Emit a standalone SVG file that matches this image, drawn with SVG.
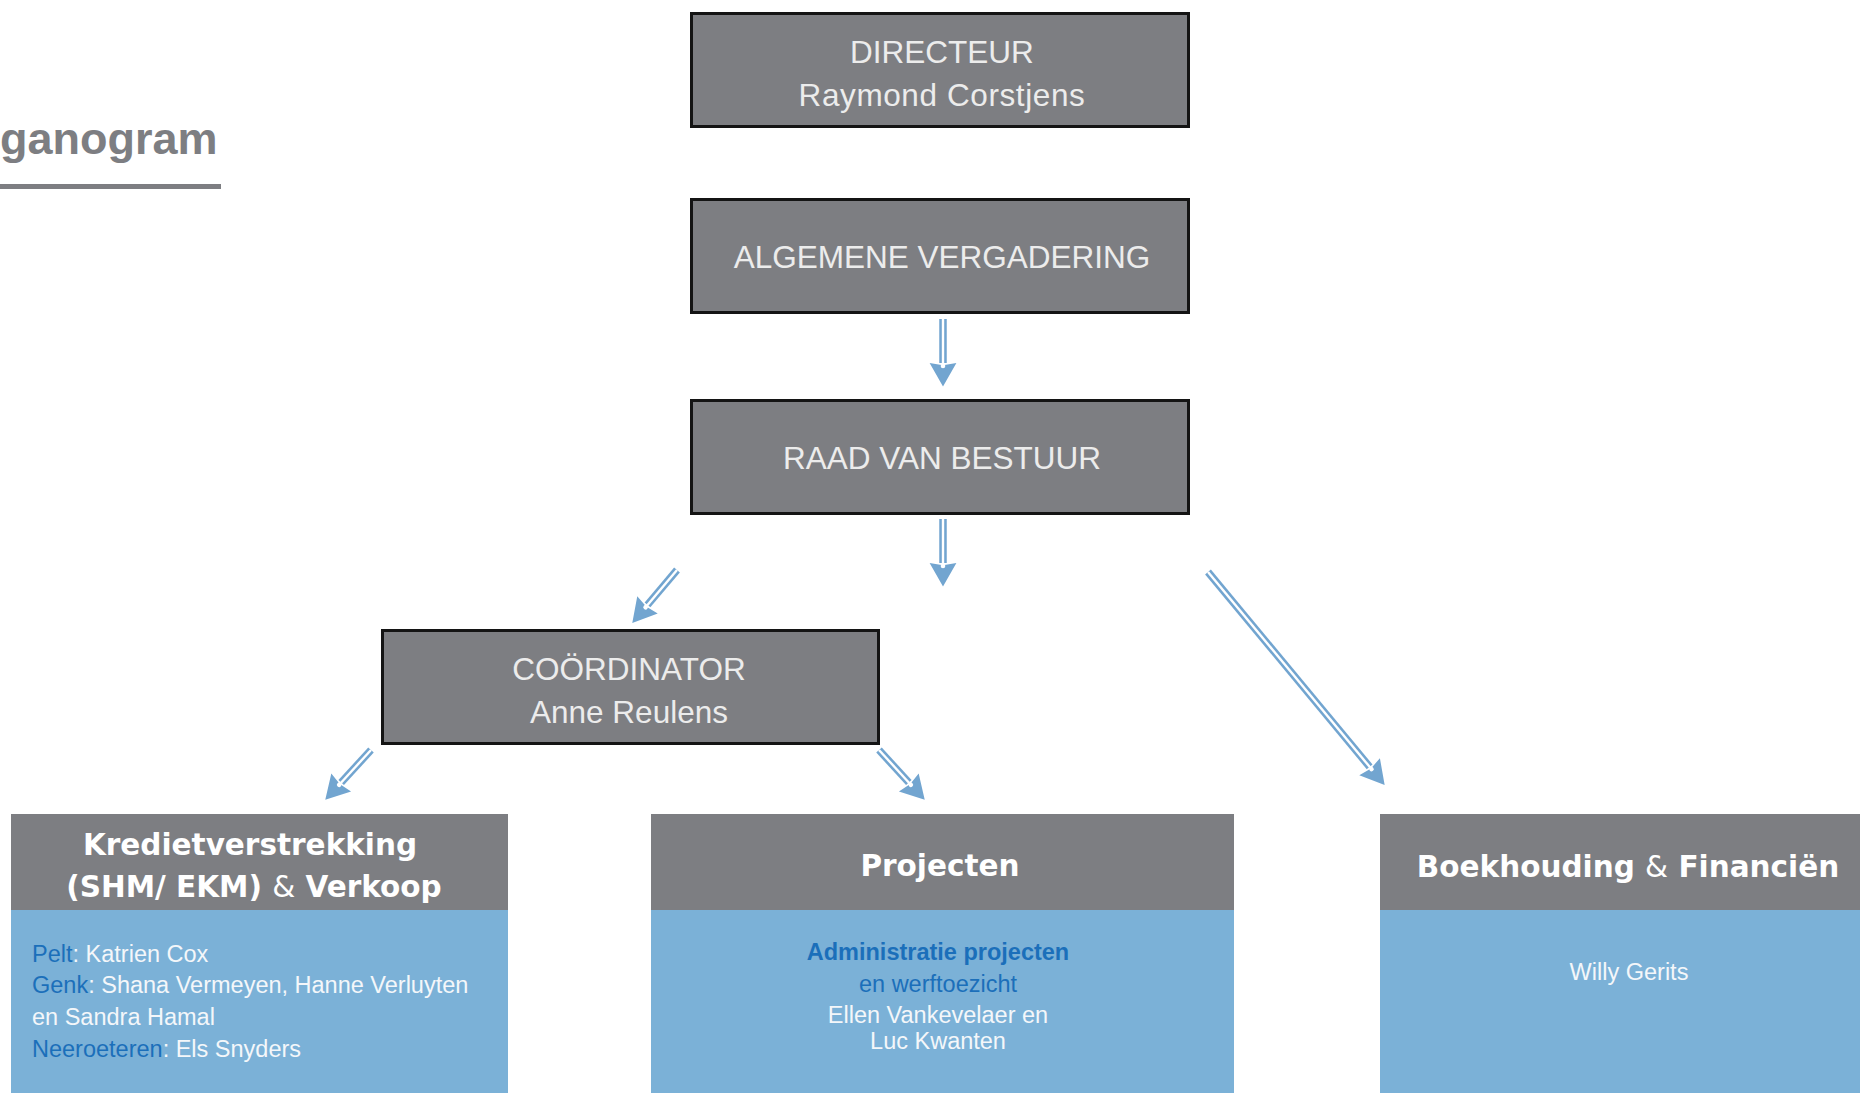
<svg xmlns="http://www.w3.org/2000/svg" width="1860" height="1093" viewBox="0 0 1860 1093">
<style>
.box{fill:#7d7e82;stroke:#141414;stroke-width:3}
.hdr{fill:#7d7e82}
.body{fill:#7bb1d7}
.bt{font-family:"Liberation Sans",Arial,sans-serif;font-size:31.5px;fill:#ececec;text-anchor:middle}
.ht{font-family:"DejaVu Sans",sans-serif;font-weight:bold;font-size:29.5px;fill:#ffffff;text-anchor:middle}
.amp{font-weight:normal}
.tx{font-family:"Liberation Sans",Arial,sans-serif;font-size:23.5px;fill:#f4f7fa}
.blue{fill:#1b6fba}
.shaft{fill:none;stroke:#72a5d0;stroke-width:7.5;marker-end:url(#head)}
.gap{fill:none;stroke:#ffffff;stroke-width:2.4;marker-end:url(#dot)}
</style>
<defs>
<marker id="head" markerUnits="userSpaceOnUse" orient="auto" refX="0" refY="0" markerWidth="30" markerHeight="30" viewBox="-2 -14 26 28" overflow="visible">
<path d="M0,-12.5 L22,0 L0,12.5 L2,0 Z" fill="#72a5d0"/>
</marker>
<marker id="dot" markerUnits="userSpaceOnUse" orient="auto" refX="0" refY="0" markerWidth="8" markerHeight="8" viewBox="-4 -4 8 8" overflow="visible">
<circle cx="0" cy="0" r="2.3" fill="#ffffff"/>
</marker>
</defs>

<g id="title">
<text x="0" y="154" font-family="Liberation Sans, Arial, sans-serif" font-weight="bold" font-size="45" fill="#7d7e82">ganogram</text>
<rect x="0" y="184" width="221" height="5" fill="#7d7e82"/>
</g>

<g id="connectors">
<path class="shaft" d="M943,319 L943,363"/>
<path class="gap" d="M943,319 L943,366"/>
<path class="shaft" d="M943,519 L943,563"/>
<path class="gap" d="M943,519 L943,566"/>
<path class="shaft" d="M677,570 L647.5,604.9"/>
<path class="gap" d="M677,570 L645.6,607.2"/>
<path class="shaft" d="M371,750 L341.2,782.5"/>
<path class="gap" d="M371,750 L339.2,784.7"/>
<path class="shaft" d="M879,750 L908.8,782.5"/>
<path class="gap" d="M879,750 L910.8,784.7"/>
<path class="shaft" d="M1208,572 L1369.6,766.8"/>
<path class="gap" d="M1208,572 L1371.5,769.1"/>
</g>

<g id="directeur">
<rect class="box" x="691.5" y="13.5" width="497" height="113"/>
<text class="bt" x="942" y="63">DIRECTEUR</text>
<text class="bt" x="942" y="106" letter-spacing="0.6">Raymond Corstjens</text>
</g>

<g id="algemene-vergadering">
<rect class="box" x="691.5" y="199.5" width="497" height="113"/>
<text class="bt" x="942" y="268">ALGEMENE VERGADERING</text>
</g>

<g id="raad-van-bestuur">
<rect class="box" x="691.5" y="400.5" width="497" height="113"/>
<text class="bt" x="942" y="469">RAAD VAN BESTUUR</text>
</g>

<g id="coordinator">
<rect class="box" x="382.5" y="630.5" width="496" height="113"/>
<text class="bt" x="629" y="680">COÖRDINATOR</text>
<text class="bt" x="629" y="723">Anne Reulens</text>
</g>

<g id="kredietverstrekking">
<rect class="hdr" x="11" y="814" width="497" height="96"/>
<rect class="body" x="11" y="910" width="497" height="183"/>
<text class="ht" x="250" y="855">Kredietverstrekking</text>
<text class="ht" x="254" y="897">(SHM/ EKM) <tspan class="amp">&amp;</tspan> Verkoop</text>
<text class="tx" x="32" y="962"><tspan class="blue">Pelt</tspan>: Katrien Cox</text>
<text class="tx" x="32" y="993"><tspan class="blue">Genk</tspan>: Shana Vermeyen, Hanne Verluyten</text>
<text class="tx" x="32" y="1025">en Sandra Hamal</text>
<text class="tx" x="32" y="1057"><tspan class="blue">Neeroeteren</tspan>: Els Snyders</text>
</g>

<g id="projecten">
<rect class="hdr" x="651" y="814" width="583" height="96"/>
<rect class="body" x="651" y="910" width="583" height="183"/>
<text class="ht" x="940" y="876">Projecten</text>
<text class="tx blue" x="938" y="960" text-anchor="middle" font-weight="bold">Administratie projecten</text>
<text class="tx blue" x="938" y="992" text-anchor="middle">en werftoezicht</text>
<text class="tx" x="938" y="1023" text-anchor="middle">Ellen Vankevelaer en</text>
<text class="tx" x="938" y="1049" text-anchor="middle">Luc Kwanten</text>
</g>

<g id="boekhouding">
<rect class="hdr" x="1380" y="814" width="480" height="96"/>
<rect class="body" x="1380" y="910" width="480" height="183"/>
<text class="ht" x="1628" y="877">Boekhouding <tspan class="amp">&amp;</tspan> Financiën</text>
<text class="tx" x="1629" y="980" text-anchor="middle">Willy Gerits</text>
</g>
</svg>
